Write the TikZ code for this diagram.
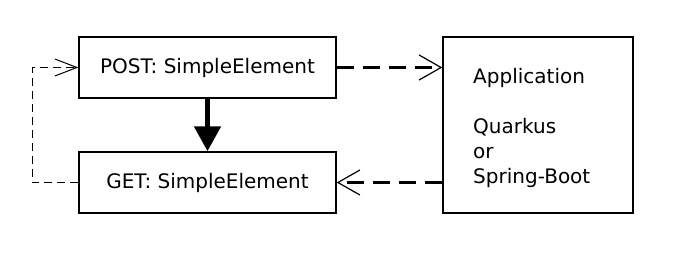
\documentclass[tikz,border=0pt]{standalone}
\usepackage{fontspec}
\setmainfont{DejaVu Sans}
\usetikzlibrary{arrows.meta}
\begin{document}
\begin{tikzpicture}[x=1pt,y=-1pt,
  lbl/.style={font=\fontsize{20}{25}\selectfont},
  box/.style={draw,line width=1.4pt,inner sep=0pt,lbl},
  bigdash/.style={line width=3pt,dash pattern=on 17pt off 9pt,
    -{Straight Barb[length=22pt,width=25pt,line width=1.2pt]}},
  smalldash/.style={line width=1pt,dash pattern=on 8pt off 5pt,
    -{Straight Barb[length=22pt,width=17pt,line width=1pt]}},
  solidarrow/.style={line width=5pt,-{Triangle[length=25pt,width=26pt]}}]
\useasboundingbox (0,0) rectangle (700,262);
\node[box,minimum width=257pt,minimum height=61pt] (post) at (207.5,67.5) {POST: SimpleElement};
\node[box,minimum width=257pt,minimum height=61pt] (get) at (207.5,182.5) {GET: SimpleElement};
\node[box,minimum width=190pt,minimum height=176pt] (app) at (538,125) {};
\node[lbl,align=left,anchor=north west,inner sep=0pt] (apptext) at (473,68) {Application\\\strut\\Quarkus\\or\\Spring-Boot};
\coordinate (c1) at (32,182.5);
\coordinate (c2) at (32,67.5);
\draw[bigdash] (post.east) -- (post.east -| app.west);
\draw[bigdash] (get.east -| app.west) -- (get.east);
\draw[solidarrow] (post.south) -- (get.north);
\draw[smalldash] (get.west) -- (c1) -- (c2) -- (post.west);
\end{tikzpicture}
\end{document}
